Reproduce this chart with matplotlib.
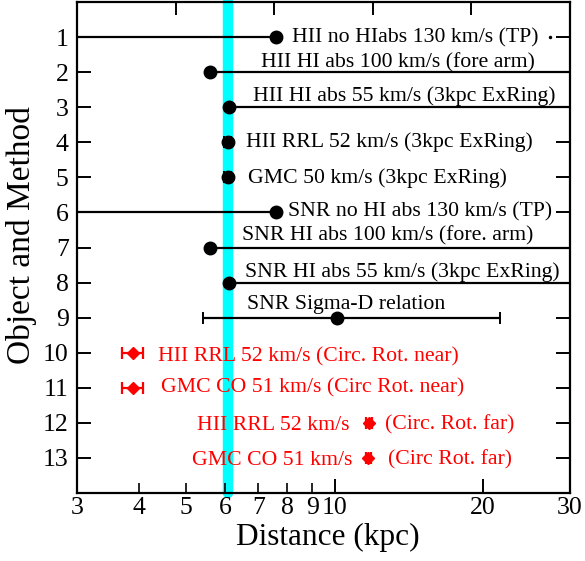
import matplotlib
matplotlib.use("Agg")
import matplotlib.pyplot as plt
import numpy as np
from matplotlib.ticker import FixedLocator, FixedFormatter, NullFormatter

plt.rcParams['font.family'] = ['Liberation Serif', 'DejaVu Serif']

# ---- data ----
rows_black = [1, 2, 3, 4, 5, 6, 7, 8, 9]
dist_black = [7.60, 5.58, 6.10, 6.06, 6.06, 7.60, 5.58, 6.10, 10.1]
low_black = [2.0, 5.58, 6.10, 5.96, 5.96, 2.0, 5.58, 6.10, 5.40]
high_black = [7.60, 40.0, 40.0, 6.16, 6.16, 7.60, 40.0, 40.0, 21.6]

rows_red = [10, 11, 12, 13]
dist_red = [3.90, 3.90, 11.73, 11.70]
low_red = [3.70, 3.70, 11.57, 11.55]
high_red = [4.08, 4.08, 11.90, 11.87]

band_center = 6.07

labels_black = [
    "HII no HIabs 130 km/s (TP)",
    "HII HI abs 100 km/s (fore arm)",
    "HII HI abs 55 km/s (3kpc ExRing)",
    "HII RRL 52 km/s (3kpc ExRing)",
    "GMC 50 km/s (3kpc ExRing)",
    "SNR no HI abs 130 km/s (TP)",
    "SNR HI abs 100 km/s (fore. arm)",
    "SNR HI abs 55 km/s (3kpc ExRing)",
    "SNR Sigma-D relation",
]
labels_red = [
    "HII RRL 52 km/s (Circ. Rot. near)",
    "GMC CO 51 km/s (Circ Rot. near)",
    "HII RRL 52 km/s",
    "GMC CO 51 km/s",
]
labels_red_far = ["(Circ. Rot. far)", "(Circ Rot. far)"]

# label anchor positions (data coords, left / baseline)
lab_x_black = [8.19, 7.09, 6.83, 6.61, 6.67, 8.04, 6.48, 6.58, 6.64]
lab_y_black = [1.142, 1.855, 2.823, 4.134, 5.160, 6.128, 6.812, 7.838, 8.749]
lab_x_red = [4.38, 4.44, 5.26, 5.14]
lab_y_red = [10.26, 11.14, 12.20, 13.19]
lab_x_far = [12.64, 12.82]

xticks_major = [3, 10, 20, 30]
xticks_minor = [4, 5, 6, 7, 8, 9]
yticks = list(range(1, 14))

# ---- figure ----
fig = plt.figure(figsize=(5.85, 5.61), dpi=100)
ax = fig.add_axes([77/585, 1-493/561, (570-77)/585, (493-2)/561])
ax.set_xscale('log')
ax.set_xlim(3, 30)
ax.set_ylim(14, 0)

ax.axvline(band_center, color='#00ffff', lw=7.5, solid_capstyle='round',
           clip_on=False, zorder=1)

db = np.array(dist_black)
xerr_b = [db - np.array(low_black), np.array(high_black) - db]
ax.errorbar(db, rows_black, xerr=xerr_b, fmt='o', color='black', ms=9,
            elinewidth=1.6, capsize=4, capthick=1.4, zorder=3)
ax.plot([27.3], [1], 'o', color='black', ms=1.5, zorder=3)

dr = np.array(dist_red)
xerr_r = [dr - np.array(low_red), np.array(high_red) - dr]
ax.errorbar(dr, rows_red, xerr=xerr_r, fmt='D', color='red', ms=6,
            elinewidth=1.6, capsize=4, capthick=1.6, zorder=3)

fs = 15.7
for x, y, t in zip(lab_x_black, lab_y_black, labels_black):
    ax.text(x, y, t, fontsize=fs, color='black', ha='left', va='baseline')
for x, y, t in zip(lab_x_red, lab_y_red, labels_red):
    ax.text(x, y, t, fontsize=fs, color='red', ha='left', va='baseline')
for x, y, t in zip(lab_x_far, lab_y_red[2:], labels_red_far):
    ax.text(x, y, t, fontsize=fs, color='red', ha='left', va='baseline')

ax.xaxis.set_major_locator(FixedLocator(xticks_major))
ax.xaxis.set_major_formatter(FixedFormatter([str(v) for v in xticks_major]))
ax.xaxis.set_minor_locator(FixedLocator(xticks_minor))
ax.xaxis.set_minor_formatter(FixedFormatter([str(v) for v in xticks_minor]))
ax.set_yticks(yticks)
ax.set_yticklabels([str(v) for v in yticks])

ax.tick_params(axis='x', which='major', direction='in', length=10, width=1.4,
               labelsize=18.5, pad=3)
ax.tick_params(axis='x', which='minor', direction='in', length=7, width=1.2,
               labelsize=18.5, pad=3)
ax.tick_params(axis='y', which='both', direction='in', length=10, width=1.4,
               labelsize=18.5, left=True, right=True, pad=6)
ax.yaxis.set_minor_locator(FixedLocator([]))

sec = ax.secondary_xaxis('top')
sec.set_xticks([3 * 10 ** (0.2 * k) for k in range(1, 5)])
sec.xaxis.set_major_formatter(NullFormatter())
sec.xaxis.set_minor_locator(FixedLocator([]))
sec.tick_params(direction='in', length=9, width=1.4)
for s in sec.spines.values():
    s.set_visible(False)

for s in ax.spines.values():
    s.set_linewidth(1.6)

ax.set_xlabel("Distance (kpc)", fontsize=22.5, labelpad=3)
ax.xaxis.label.set_x(0.508)
ax.set_ylabel("Object and Method", fontsize=24, labelpad=4)
ax.yaxis.label.set_y(0.525)

fig.savefig("out.png", dpi=100)
